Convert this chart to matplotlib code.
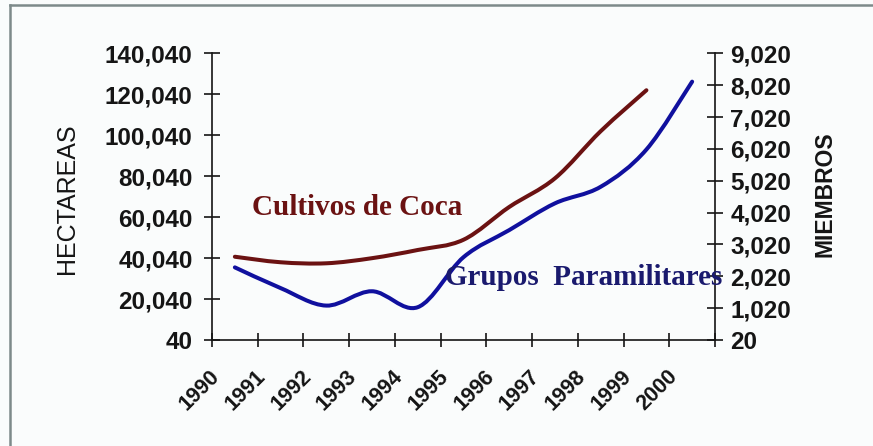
import numpy as np
import matplotlib
matplotlib.use("Agg")
from matplotlib import pyplot as plt
from matplotlib.path import Path
from matplotlib.patches import PathPatch
from matplotlib.lines import Line2D
from matplotlib.ticker import FuncFormatter

years = ["1990", "1991", "1992", "1993", "1994", "1995",
         "1996", "1997", "1998", "1999", "2000"]
# coca crops (hectares), no figure for 2000
coca_ha = [40700, 38000, 37500, 40000, 44000, 49000,
           65000, 79000, 102000, 122000]
# paramilitary groups (members)
paras = [2300, 1650, 1100, 1550, 1050, 2620,
         3470, 4310, 4830, 6000, 8130]

left_ticks = [40, 20040, 40040, 60040, 80040, 100040, 120040, 140040]
right_ticks = [20, 1020, 2020, 3020, 4020, 5020, 6020, 7020, 8020, 9020]

RED = "#6b1212"
BLUE = "#10109e"
INK = "#151515"


def smooth_path(xs, ys):
    # catmull-rom through every point, drawn as cubic beziers
    pts = np.column_stack([xs, ys]).astype(float)
    p = np.vstack([pts[0], pts, pts[-1]])
    verts = [pts[0]]
    codes = [Path.MOVETO]
    for i in range(1, len(p) - 2):
        c1 = p[i] + (p[i + 1] - p[i - 1]) / 6.0
        c2 = p[i + 1] - (p[i + 2] - p[i]) / 6.0
        verts += [c1, c2, p[i + 1]]
        codes += [Path.CURVE4] * 3
    return Path(verts, codes)


fig = plt.figure(figsize=(8.73, 4.46), dpi=100, facecolor="#fafcfc")
ax = fig.add_axes([212 / 873, 1 - 340 / 446, 503 / 873, 286.7 / 446])
ax2 = ax.twinx()
for a in (ax, ax2):
    a.set_facecolor("none")
    a.set_xlim(-0.5, len(years) - 0.5)
    for s in a.spines.values():
        s.set_visible(False)

ax.set_ylim(left_ticks[0], left_ticks[-1])
ax2.set_ylim(right_ticks[0], right_ticks[-1])
ax.spines["left"].set_visible(True)
ax.spines["bottom"].set_visible(True)
ax2.spines["right"].set_visible(True)
for name, a in (("left", ax), ("bottom", ax), ("right", ax2)):
    a.spines[name].set_color(INK)
    a.spines[name].set_linewidth(1.2)

fmt = FuncFormatter(lambda v, pos: f"{v:,.0f}")
ax.set_yticks(left_ticks)
ax.yaxis.set_major_formatter(fmt)
ax2.set_yticks(right_ticks)
ax2.yaxis.set_major_formatter(fmt)
ax.tick_params(axis="y", direction="inout", length=12, width=1.2,
               color=INK, pad=8, labelsize=17.5, labelcolor=INK)
ax2.tick_params(axis="y", direction="inout", length=12, width=1.2,
                color=INK, pad=5, labelsize=17.5, labelcolor=INK)
for lab in ax.get_yticklabels() + ax2.get_yticklabels():
    lab.set_family("Liberation Sans")
    lab.set_fontweight("bold")

# ticks sit between the year categories
ax.set_xticks(np.arange(len(years) + 1) - 0.5)
ax.set_xticklabels([])
ax.tick_params(axis="x", direction="inout", length=10, width=1.2, color=INK)
ax2.tick_params(axis="x", length=0)

for i, yr in enumerate(years):
    ax.annotate(yr, xy=(i, 0), xycoords=("data", "axes fraction"),
                xytext=(-35, -50), textcoords="offset pixels",
                rotation=45, ha="center", va="center",
                fontsize=15.5, fontweight="bold", family="Liberation Sans",
                color=INK, annotation_clip=False)

ax.add_patch(PathPatch(smooth_path(np.arange(len(coca_ha)), coca_ha),
                       facecolor="none", edgecolor=RED, lw=2.9,
                       capstyle="round", joinstyle="round"))
ax2.add_patch(PathPatch(smooth_path(np.arange(len(paras)), paras),
                        facecolor="none", edgecolor=BLUE, lw=2.9,
                        capstyle="round", joinstyle="round"))

fig.text(252 / 873, 1 - 215 / 446, "Cultivos de Coca", color=RED,
         family="Liberation Serif", fontweight="bold", fontsize=21,
         ha="left", va="baseline")
fig.text(445 / 873, 1 - 285 / 446, "Grupos  Paramilitares", color="#1a1a6e",
         family="Liberation Serif", fontweight="bold", fontsize=21,
         ha="left", va="baseline", zorder=5)

fig.text(67 / 873, 1 - 199 / 446, "HECTAREAS", rotation=90, ha="center",
         va="center", fontsize=18, family="Liberation Sans", color=INK)
fig.text(825 / 873, 1 - 194 / 446, "MIEMBROS", rotation=90, ha="center",
         va="center", fontsize=16.5, fontweight="bold",
         family="Liberation Sans", color=INK)

# chart frame
fig.add_artist(Line2D([10 / 873, 10 / 873], [0, 1 - 5 / 446],
                      transform=fig.transFigure, color="#7d8a8a", lw=1.8))
fig.add_artist(Line2D([10 / 873, 1], [1 - 5 / 446, 1 - 5 / 446],
                      transform=fig.transFigure, color="#7d8a8a", lw=1.8))

fig.savefig("out.png", dpi=100, facecolor=fig.get_facecolor())
